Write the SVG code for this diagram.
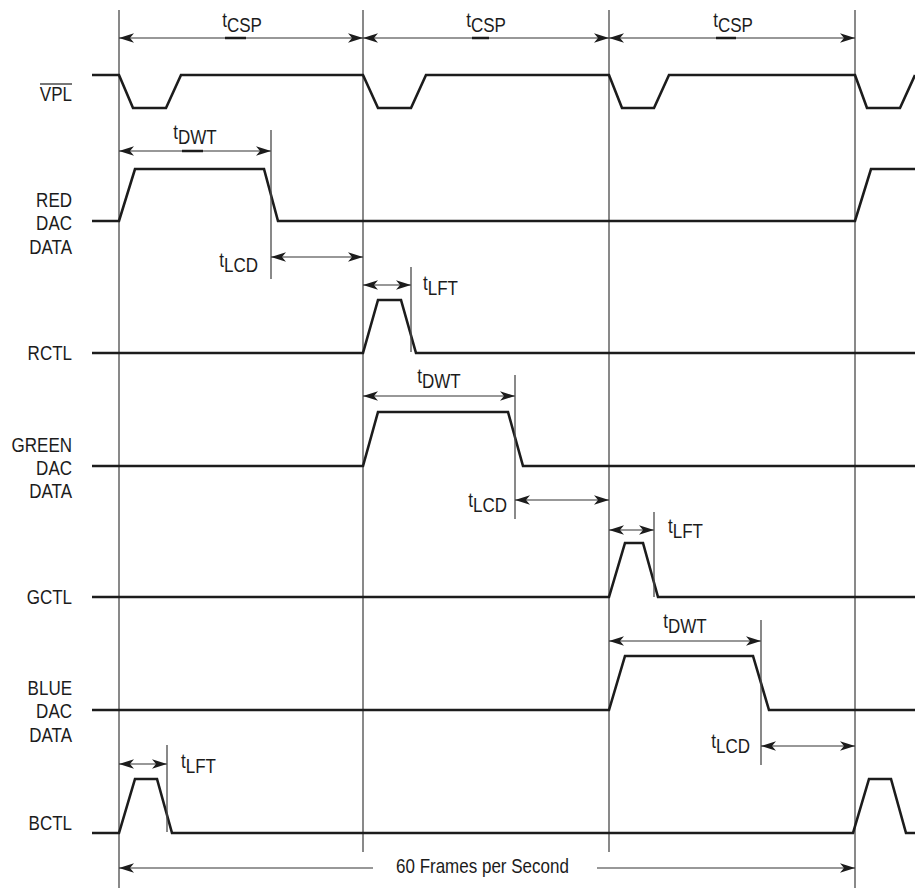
<svg xmlns="http://www.w3.org/2000/svg" width="915" height="888" viewBox="0 0 915 888">
<style>
.bg{fill:#fff}
.grid{stroke:#4a4a4a;stroke-width:1.3;fill:none}
.sig{stroke:#1c1c1c;stroke-width:2.6;fill:none;stroke-linejoin:miter}
.dim{stroke:#333;stroke-width:1.2;fill:none}
.mark{stroke:#1c1c1c;stroke-width:2.5}
.lbl{font-family:"Liberation Sans",Arial,sans-serif;font-size:21px;fill:#1c1c1c}
.end{text-anchor:end}
.mid{text-anchor:middle}
</style>
<defs>
<marker id="ah" viewBox="0 0 15 10" refX="15" refY="5" markerWidth="15" markerHeight="10" markerUnits="userSpaceOnUse" orient="auto-start-reverse">
<path d="M0,0.3 L15,5 L0,9.7 L4,5 Z" fill="#1c1c1c"/>
</marker>
</defs>
<rect class="bg" x="0" y="0" width="915" height="888"/>

<g id="gridlines">
<line class="grid" x1="119" y1="10" x2="119" y2="888"/>
<line class="grid" x1="363" y1="10" x2="363" y2="852"/>
<line class="grid" x1="609" y1="10" x2="609" y2="852"/>
<line class="grid" x1="855" y1="10" x2="855" y2="888"/>
</g>

<g id="sig-vpl">
<path class="sig" d="M92,75 H119 L133,108 H166 L181,75 H363 L378,108 H411 L426,75 H609 L622,108 H654 L669,75 H855 L867,108 H900 L915,75"/>
<text class="lbl end" transform="translate(72,101) scale(0.81,1)">VPL</text>
<line x1="40" y1="84" x2="72" y2="84" stroke="#1c1c1c" stroke-width="1.2"/>
</g>

<g id="sig-red">
<path class="sig" d="M92,221 H119 L135,169 H264 L278,221 H855 L871,169 H915"/>
<text class="lbl end" transform="translate(72,207) scale(0.81,1)">RED</text>
<text class="lbl end" transform="translate(72,230) scale(0.81,1)">DAC</text>
<text class="lbl end" transform="translate(72,254) scale(0.81,1)">DATA</text>
</g>

<g id="sig-rctl">
<path class="sig" d="M92,353 H363 L378,300 H401 L416,353 H915"/>
<text class="lbl end" transform="translate(72,360) scale(0.81,1)">RCTL</text>
</g>

<g id="sig-green">
<path class="sig" d="M92,466 H363 L378,412 H508 L523,466 H915"/>
<text class="lbl end" transform="translate(72,452) scale(0.81,1)">GREEN</text>
<text class="lbl end" transform="translate(72,475) scale(0.81,1)">DAC</text>
<text class="lbl end" transform="translate(72,498) scale(0.81,1)">DATA</text>
</g>

<g id="sig-gctl">
<path class="sig" d="M92,597 H609 L625,543 H643 L658,597 H915"/>
<text class="lbl end" transform="translate(72,604) scale(0.81,1)">GCTL</text>
</g>

<g id="sig-blue">
<path class="sig" d="M92,710 H609 L625,656 H753 L769,710 H915"/>
<text class="lbl end" transform="translate(72,695) scale(0.81,1)">BLUE</text>
<text class="lbl end" transform="translate(72,718) scale(0.81,1)">DAC</text>
<text class="lbl end" transform="translate(72,742) scale(0.81,1)">DATA</text>
</g>

<g id="sig-bctl">
<path class="sig" d="M92,833 H119 L135,779 H157 L172,833 H853 L869,779 H891 L906,833 H915"/>
<text class="lbl end" transform="translate(72,830) scale(0.81,1)">BCTL</text>
</g>

<g id="connectors">
<line class="dim" x1="119" y1="38" x2="363" y2="38" marker-start="url(#ah)" marker-end="url(#ah)"/>
<line class="dim" x1="363" y1="38" x2="609" y2="38" marker-start="url(#ah)" marker-end="url(#ah)"/>
<line class="dim" x1="609" y1="38" x2="855" y2="38" marker-start="url(#ah)" marker-end="url(#ah)"/>
<line class="mark" x1="225" y1="38" x2="246" y2="38"/>
<line class="mark" x1="472" y1="38" x2="489" y2="38"/>
<line class="mark" x1="716" y1="38" x2="736" y2="38"/>
<line class="dim" x1="119" y1="151" x2="271" y2="151" marker-start="url(#ah)" marker-end="url(#ah)"/>
<line class="dim" x1="363" y1="396" x2="515" y2="396" marker-start="url(#ah)" marker-end="url(#ah)"/>
<line class="dim" x1="609" y1="641" x2="761" y2="641" marker-start="url(#ah)" marker-end="url(#ah)"/>
<line class="mark" x1="182" y1="151" x2="203" y2="151"/>
<line class="grid" x1="271" y1="130" x2="271" y2="279"/>
<line class="grid" x1="515" y1="375" x2="515" y2="519"/>
<line class="grid" x1="761" y1="620" x2="761" y2="765"/>
<line class="dim" x1="271" y1="257" x2="363" y2="257" marker-start="url(#ah)" marker-end="url(#ah)"/>
<line class="dim" x1="515" y1="500" x2="609" y2="500" marker-start="url(#ah)" marker-end="url(#ah)"/>
<line class="dim" x1="761" y1="746" x2="855" y2="746" marker-start="url(#ah)" marker-end="url(#ah)"/>
<line class="dim" x1="363" y1="285" x2="411" y2="285" stroke-width="1.8" marker-start="url(#ah)" marker-end="url(#ah)"/>
<line class="dim" x1="609" y1="530" x2="654" y2="530" stroke-width="1.8" marker-start="url(#ah)" marker-end="url(#ah)"/>
<line class="dim" x1="119" y1="764" x2="167" y2="764" stroke-width="1.8" marker-start="url(#ah)" marker-end="url(#ah)"/>
<line class="grid" x1="411" y1="267" x2="411" y2="352"/>
<line class="grid" x1="654" y1="512" x2="654" y2="597"/>
<line class="grid" x1="167" y1="745" x2="167" y2="832"/>
<line class="dim" x1="119" y1="868" x2="373" y2="868" marker-start="url(#ah)"/>
<line class="dim" x1="597" y1="868" x2="855" y2="868" marker-end="url(#ah)"/>
</g>

<g id="labels">
<text class="lbl mid" transform="translate(242,27) scale(0.81,1)">t<tspan dy="5">CSP</tspan></text>
<text class="lbl mid" transform="translate(486,27) scale(0.81,1)">t<tspan dy="5">CSP</tspan></text>
<text class="lbl mid" transform="translate(733,27) scale(0.81,1)">t<tspan dy="5">CSP</tspan></text>
<text class="lbl mid" transform="translate(195,139) scale(0.81,1)">t<tspan dy="5">DWT</tspan></text>
<text class="lbl mid" transform="translate(439,383) scale(0.81,1)">t<tspan dy="5">DWT</tspan></text>
<text class="lbl mid" transform="translate(685,628) scale(0.81,1)">t<tspan dy="5">DWT</tspan></text>
<text class="lbl end" transform="translate(258,267) scale(0.81,1)">t<tspan dy="5">LCD</tspan></text>
<text class="lbl end" transform="translate(507,507) scale(0.81,1)">t<tspan dy="5">LCD</tspan></text>
<text class="lbl end" transform="translate(750,748) scale(0.81,1)">t<tspan dy="5">LCD</tspan></text>
<text class="lbl" transform="translate(423,290) scale(0.81,1)">t<tspan dy="5">LFT</tspan></text>
<text class="lbl" transform="translate(668,533) scale(0.81,1)">t<tspan dy="5">LFT</tspan></text>
<text class="lbl" transform="translate(181,768) scale(0.81,1)">t<tspan dy="5">LFT</tspan></text>
<text class="lbl" transform="translate(396,873) scale(0.81,1)">60 Frames per Second</text>
</g>
</svg>
